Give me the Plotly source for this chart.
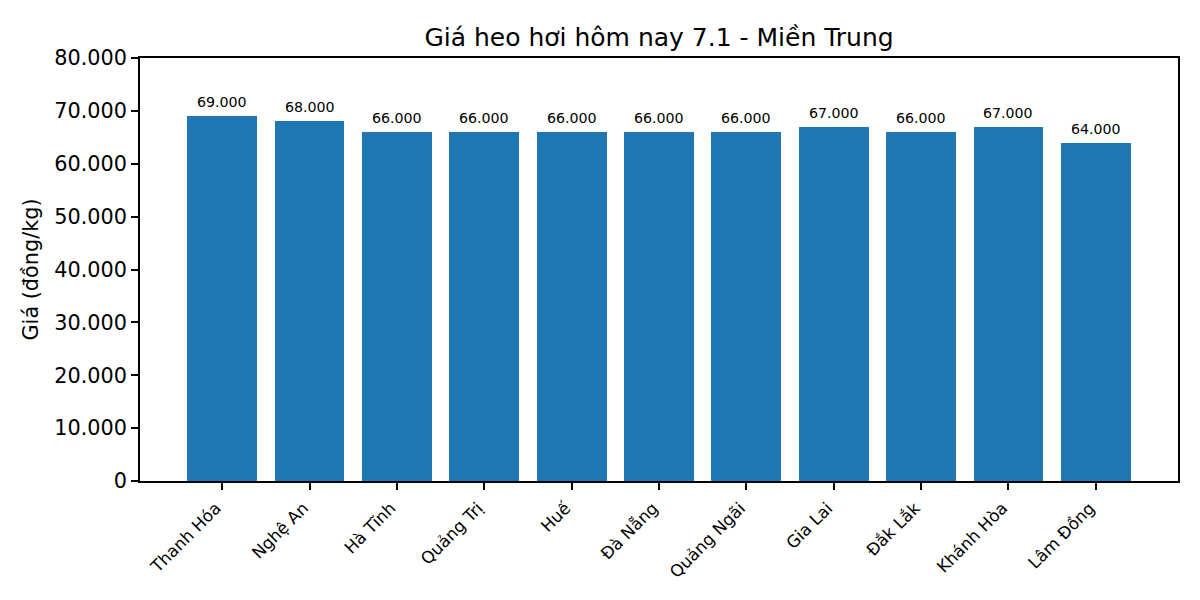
import plotly.graph_objects as go

provinces = ["Thanh Hóa", "Nghệ An", "Hà Tĩnh", "Quảng Trị", "Huế", "Đà Nẵng",
             "Quảng Ngãi", "Gia Lai", "Đắk Lắk", "Khánh Hòa", "Lâm Đồng"]
prices = [69000, 68000, 66000, 66000, 66000, 66000, 66000, 67000, 66000, 67000, 64000]
y_ticks = [0, 10000, 20000, 30000, 40000, 50000, 60000, 70000, 80000]


def vn_fmt(v):
    return f"{v:,}".replace(",", ".")


x_idx = list(range(len(provinces)))

fig = go.Figure(go.Bar(x=x_idx, y=prices, width=0.8, marker_color="#1f77b4",
                       marker_line_width=0))

for i, p in zip(x_idx, prices):
    fig.add_annotation(x=i, y=p, text=vn_fmt(p), showarrow=False,
                       yanchor="bottom", yshift=4,
                       font=dict(size=14.2, color="black"))

axis_common = dict(showline=True, linecolor="black", linewidth=1.6, mirror=True,
                   ticks="outside", ticklen=7, tickwidth=1.6, tickcolor="black",
                   showgrid=False, zeroline=False)

fig.update_xaxes(range=[-0.94, len(provinces) - 1 + 0.94], tickvals=x_idx,
                 ticktext=provinces, tickangle=-45, ticklabelshift=-6,
                 ticklabelstandoff=2,
                 tickfont=dict(size=16.7, color="black"), **axis_common)
fig.update_yaxes(range=[0, 80000], tickvals=y_ticks,
                 ticktext=[vn_fmt(v) for v in y_ticks],
                 tickfont=dict(size=20.8, color="black"),
                 title=dict(text="Giá (đồng/kg)", font=dict(size=20.8, color="black"),
                            standoff=10),
                 **axis_common)

# page body has an 8px margin, so margins are shifted to compensate
fig.update_layout(
    width=1200, height=600,
    font=dict(family="DejaVu Sans", color="black"),
    title=dict(text="Giá heo hơi hôm nay 7.1 - Miền Trung", x=0.5, xref="paper",
               xanchor="center", y=1 - 29 / 600, yanchor="middle",
               font=dict(size=25, color="black")),
    margin=dict(l=132, r=30, t=50, b=127),
    plot_bgcolor="white", paper_bgcolor="white",
    showlegend=False, bargap=0,
)

fig.write_html("out.html")
